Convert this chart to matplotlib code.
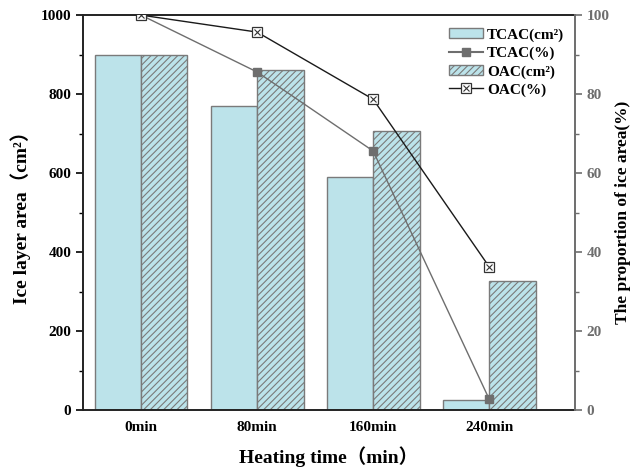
import numpy as np
import matplotlib
matplotlib.use("Agg")
import matplotlib.pyplot as plt
from matplotlib.patches import Patch
from matplotlib.lines import Line2D
from matplotlib.legend_handler import HandlerTuple
from matplotlib.ticker import MultipleLocator

plt.rcParams["font.family"] = ["Liberation Serif", "Noto Sans CJK SC"]
plt.rcParams["font.weight"] = "bold"
plt.rcParams["hatch.color"] = "#7a7a7a"
plt.rcParams["hatch.linewidth"] = 0.8

# 資料
times = ["0min", "80min", "160min", "240min"]
tcac_area = [900, 770, 590, 25]
oac_area = [900, 860, 707, 327]
tcac_pct = [100, 85.6, 65.6, 2.8]
oac_pct = [100, 95.7, 78.7, 36.3]

BAR_FC = "#bce3ea"
EDGE = "#7a7a7a"
GRAY = "#6e6e6e"

fig = plt.figure(figsize=(6.34, 4.72), dpi=100)
ax = fig.add_axes([0.131, 0.131, 0.776, 0.837])
x = np.arange(len(times))

ax.bar(x, tcac_area, width=-0.4, align="edge", color=BAR_FC,
       edgecolor=EDGE, linewidth=1.0)
ax.bar(x, oac_area, width=0.4, align="edge", color=BAR_FC,
       edgecolor=EDGE, linewidth=1.0, hatch="/////")

ax.set_xlim(-0.5, 3.74)
ax.set_ylim(0, 1000)
ax.set_xticks(x)
ax.set_xticklabels(times, fontsize=11, fontweight="bold")
ax.tick_params(axis="x", length=0, pad=8)
ax.yaxis.set_major_locator(MultipleLocator(200))
ax.yaxis.set_minor_locator(MultipleLocator(100))
ax.tick_params(axis="y", which="major", direction="out", length=5, width=1.2, labelsize=11)
ax.tick_params(axis="y", which="minor", direction="out", length=3, width=1.0)
for lbl in ax.get_yticklabels():
    lbl.set_fontweight("bold")
ax.set_xlabel("Heating time（min）", fontsize=14, fontweight="bold", labelpad=9)
ax.set_ylabel("Ice layer area（cm²）", fontsize=14, fontweight="bold", labelpad=7)

for s in ["left", "top", "bottom"]:
    ax.spines[s].set_color("#222222")
    ax.spines[s].set_linewidth(1.4)
ax.spines["right"].set_visible(False)

# 右軸：比例
ax2 = ax.twinx()
ax2.set_ylim(0, 100)
ax2.plot(x, tcac_pct, color=GRAY, lw=1.0, marker="s", ms=6,
         mfc=GRAY, mec=GRAY, zorder=5)
ax2.plot(x, oac_pct, color="#1a1a1a", lw=1.0, marker="s", ms=6.5,
         mfc="white", mec="#333333", mew=0.9, zorder=5)
ax2.plot(x, oac_pct, ls="none", marker="x", ms=5, mec="#333333", mew=0.8, zorder=6)
ax2.yaxis.set_major_locator(MultipleLocator(20))
ax2.yaxis.set_minor_locator(MultipleLocator(10))
ax2.tick_params(axis="y", which="major", direction="out", length=5, width=1.2,
                colors=GRAY, labelsize=11)
ax2.tick_params(axis="y", which="minor", direction="out", length=3, width=1.0, colors=GRAY)
for lbl in ax2.get_yticklabels():
    lbl.set_fontweight("bold")
for s in ["left", "top", "bottom"]:
    ax2.spines[s].set_visible(False)
ax2.spines["right"].set_color(GRAY)
ax2.spines["right"].set_linewidth(1.4)
ax2.set_ylabel("The proportion of ice area(%)", fontsize=12.5, fontweight="bold", labelpad=4)

oac_line = Line2D([], [], color="#1a1a1a", lw=1.0, marker="s", ms=6.5,
                  mfc="white", mec="#333333", mew=0.9)
oac_x = Line2D([], [], ls="none", marker="x", ms=5, mec="#333333", mew=0.8)
handles = [
    Patch(facecolor=BAR_FC, edgecolor=EDGE, label="TCAC(cm²)"),
    Line2D([], [], color=GRAY, marker="s", ms=6, mfc=GRAY, mec=GRAY, label="TCAC(%)"),
    Patch(facecolor=BAR_FC, edgecolor=EDGE, hatch="/////", label="OAC(cm²)"),
    (oac_line, oac_x),
]
labels = ["TCAC(cm²)", "TCAC(%)", "OAC(cm²)", "OAC(%)"]
leg = ax2.legend(handles, labels, loc="upper right", bbox_to_anchor=(1.0, 0.995),
                 frameon=False, fontsize=11, handlelength=2.2, handletextpad=0.3,
                 labelspacing=0.3, borderaxespad=0.3,
                 handler_map={tuple: HandlerTuple(ndivide=1, pad=0)})
for t in leg.get_texts():
    t.set_fontweight("bold")

fig.savefig("out.png", dpi=100)
